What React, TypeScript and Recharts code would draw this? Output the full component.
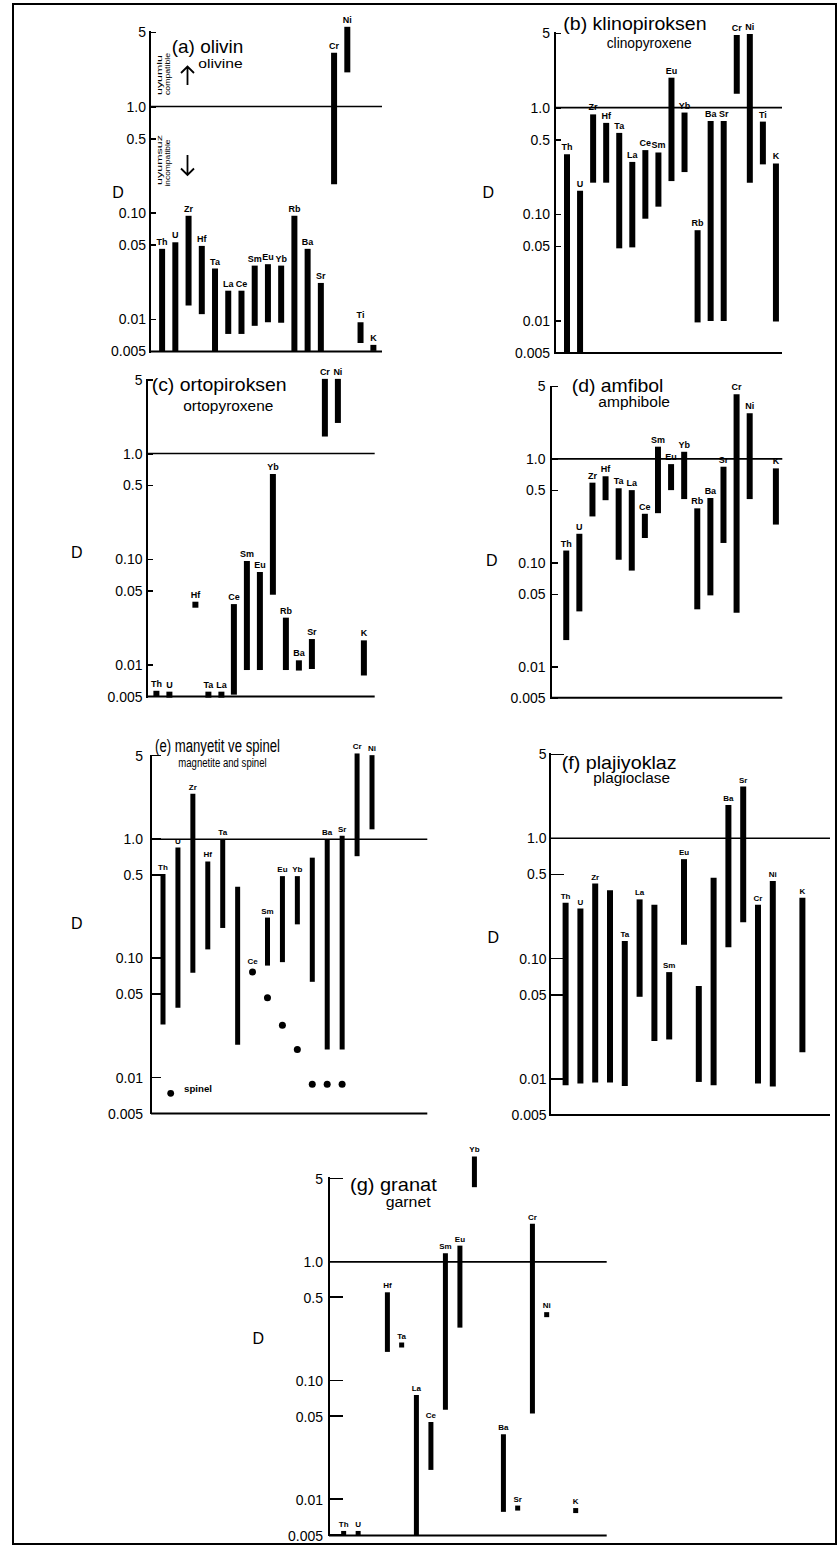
import React from 'react';
import { ComposedChart, Bar, Line, XAxis, YAxis, ReferenceLine, LabelList } from 'recharts';

const FONT = '"Liberation Sans", Arial, Helvetica, sans-serif';

const elements = ['Th', 'U', 'Zr', 'Hf', 'Ta', 'La', 'Ce', 'Sm', 'Eu', 'Yb', 'Rb', 'Ba', 'Sr', 'Cr', 'Ni', 'Ti', 'K'];
const tickValues = [0.005, 0.01, 0.05, 0.1, 0.5, 1, 5];
const tickLabels = ['0.005', '0.01', '0.05', '0.10', '0.5', '1.0', '5'];
const N = null;

// (a) olivin
const olivLow = [0.005, 0.005, 0.0135, 0.0112, 0.005, 0.0073, 0.0073, 0.0087, 0.0094, 0.0093, 0.005, 0.005, 0.005, 0.186, 2.09, 0.006, N];
const olivHigh = [0.046, 0.053, 0.094, 0.049, 0.03, 0.0186, 0.0186, 0.032, 0.033, 0.032, 0.094, 0.046, 0.022, 3.2, 5.6, 0.0094, N];
const olivPts = [N, N, N, N, N, N, N, N, N, N, N, N, N, N, N, N, 0.0054];

// (b) klinopiroksen
const cpxLow = [0.005, 0.005, 0.198, 0.198, 0.048, 0.049, 0.091, 0.118, 0.205, 0.249, 0.0097, 0.01, 0.01, 1.35, 0.198, 0.294, 0.0099];
const cpxHigh = [0.365, 0.166, 0.865, 0.72, 0.58, 0.31, 0.4, 0.38, 1.91, 0.9, 0.071, 0.75, 0.75, 4.8, 4.9, 0.74, 0.3];
const cpxPts = elements.map(() => N);

// (c) ortopiroksen
const opxLow = [N, N, N, N, N, N, 0.0052, 0.0089, 0.0089, 0.046, 0.0089, 0.0088, 0.0091, 1.45, 1.95, N, 0.0079];
const opxHigh = [N, N, N, N, N, N, 0.0375, 0.096, 0.0755, 0.64, 0.0279, 0.011, 0.0175, 5.1, 5.1, N, 0.017];
const opxPts = [0.0053, 0.0052, N, 0.037, 0.0052, 0.0052, N, N, N, N, N, N, N, N, N, N, N];

// (d) amfibol
const amphLow = [0.018, 0.034, 0.279, 0.4, 0.107, 0.084, 0.173, 0.3, 0.5, 0.41, 0.0356, 0.0485, 0.155, 0.033, 0.41, N, 0.233];
const amphHigh = [0.131, 0.19, 0.59, 0.68, 0.52, 0.5, 0.296, 1.31, 0.89, 1.17, 0.334, 0.42, 0.84, 4.2, 2.75, N, 0.81];
const amphPts = elements.map(() => N);

// (e) manyetit ve spinel (bars: magnetite, dots: spinel)
const magLow = [0.0279, 0.0385, 0.0757, 0.119, 0.18, 0.0189, N, 0.087, 0.093, 0.193, 0.0636, 0.0172, 0.0172, 0.72, 1.21, N, N];
const magHigh = [0.51, 0.85, 2.41, 0.65, 1.0, 0.4, N, 0.22, 0.49, 0.49, 0.7, 1.0, 1.07, 5.24, 5.07, N, N];
const spinelPts = [N, N, N, N, N, N, 0.077, 0.0467, 0.0275, 0.0172, 0.0088, 0.0088, 0.0088, N, N, N, N];
const magUnlabeled = ['La', 'Rb'];

// (f) plajiyoklaz
const plagLow = [0.0088, 0.0091, 0.0093, 0.0093, 0.0087, 0.048, 0.0206, 0.0212, 0.13, 0.0094, 0.0088, 0.124, 0.2, 0.0091, 0.0086, N, 0.0166];
const plagHigh = [0.29, 0.26, 0.42, 0.37, 0.14, 0.31, 0.28, 0.077, 0.67, 0.059, 0.47, 1.89, 2.69, 0.28, 0.44, N, 0.32];
const plagPts = elements.map(() => N);
const plagUnlabeled = ['Hf', 'Ce', 'Yb', 'Rb'];

// (g) granat
const grtLow = [N, N, N, 0.175, N, 0.005, 0.0178, 0.057, 0.28, 4.25, N, 0.0079, N, 0.053, N, N, N];
const grtHigh = [N, N, N, 0.555, N, 0.076, 0.045, 1.18, 1.37, 7.7, N, 0.0355, N, 2.09, N, N, N];
const grtPts = [0.0052, 0.0052, N, N, 0.2, N, N, N, N, N, N, N, 0.0085, N, 0.36, N, 0.0081];

const DOMAIN_TOP = 10;
const YW = 60;
const MT = 10;
const MB = 12;
const MR = 4;

type Cfg = {
  axisX: number; right: number; top5: number; bottom: number;
  padL: number; padR: number; bar: number; tickLen: number; gap: number;
  labelSize: number; ps: number; shape: 'square' | 'circle';
};

const cfgA: Cfg = { axisX: 150, right: 382, top5: 32.3, bottom: 351.7, padL: 5.1, padR: 2, bar: 6, tickLen: 6, gap: 4, labelSize: 9, ps: 6, shape: 'square' };
const cfgB: Cfg = { axisX: 555, right: 782, top5: 33.3, bottom: 353.3, padL: 5, padR: 0, bar: 6, tickLen: 6, gap: 5, labelSize: 9, ps: 6, shape: 'square' };
const cfgC: Cfg = { axisX: 147.3, right: 375, top5: 380, bottom: 696.7, padL: 2.9, padR: 3.8, bar: 6, tickLen: 6, gap: 4.5, labelSize: 9, ps: 6, shape: 'square' };
const cfgD: Cfg = { axisX: 550.7, right: 782, top5: 386.7, bottom: 698.3, padL: 8.25, padR: 0.3, bar: 6, tickLen: 7, gap: 5.5, labelSize: 9, ps: 6, shape: 'square' };
const cfgE: Cfg = { axisX: 150.7, right: 427, top5: 755.7, bottom: 1113.3, padL: 4.5, padR: 18, bar: 5, tickLen: 10, gap: 8, labelSize: 8, ps: 7, shape: 'circle' };
const cfgF: Cfg = { axisX: 550, right: 830, top5: 754.3, bottom: 1115, padL: 8.6, padR: 19.8, bar: 6, tickLen: 14, gap: 3.5, labelSize: 8, ps: 6, shape: 'square' };
const cfgG: Cfg = { axisX: 329.3, right: 607, top5: 1178.3, bottom: 1535, padL: 7.4, padR: 23.75, bar: 5, tickLen: 14, gap: 6, labelSize: 8, ps: 5, shape: 'square' };
const allCfg = [cfgA, cfgB, cfgC, cfgD, cfgE, cfgF, cfgG];

function Panel({ cfg, low, high, pts, unlabeled = [] }: {
  cfg: Cfg; low: (number | null)[]; high: (number | null)[]; pts: (number | null)[]; unlabeled?: string[];
}) {
  const dec = (cfg.bottom - cfg.top5) / 3;
  const plotTop = cfg.top5 - Math.log10(DOMAIN_TOP / 5) * dec;
  const plotH = cfg.bottom - plotTop;
  const plotW = cfg.right - cfg.axisX;
  const width = YW + plotW + MR;
  const height = MT + plotH + MB;

  const rows = elements.map((el, i) => {
    const lo = low[i];
    const hi = high[i];
    const hasBar = lo != null && hi != null;
    const shown = !unlabeled.includes(el);
    return {
      el,
      r: hasBar ? [lo, hi] : null,
      p: pts[i] ?? null,
      lab: hasBar && shown ? el : '',
      plab: !hasBar && pts[i] != null && shown ? el : '',
    };
  });

  const renderTick = (props: any) => {
    const { x, y, payload } = props;
    const idx = tickValues.indexOf(payload.value);
    return (
      <text x={Number(x) - cfg.gap} y={y} dy="0.36em" textAnchor="end" fontSize={14} fontFamily={FONT} fill="#000">
        {tickLabels[idx]}
      </text>
    );
  };

  const barLabel = (props: any) => {
    const vb = props.viewBox || props;
    const x = vb.x ?? props.x;
    const y = vb.y ?? props.y;
    const w = vb.width ?? props.width ?? 0;
    if (!props.value || !Number.isFinite(x) || !Number.isFinite(y)) return null;
    return (
      <text x={x + w / 2} y={y - 4} textAnchor="middle" fontSize={cfg.labelSize} fontWeight="bold" fontFamily={FONT} fill="#000">
        {props.value}
      </text>
    );
  };

  const pointLabel = (props: any) => {
    const vb = props.viewBox || props;
    const x = vb.x ?? props.x;
    const y = vb.y ?? props.y;
    if (!props.value || !Number.isFinite(x) || !Number.isFinite(y)) return null;
    return (
      <text x={x} y={y - cfg.ps / 2 - 4} textAnchor="middle" fontSize={cfg.labelSize} fontWeight="bold" fontFamily={FONT} fill="#000">
        {props.value}
      </text>
    );
  };

  const renderDot = (props: any) => {
    const { cx, cy, index, payload } = props;
    if (payload == null || payload.p == null || !Number.isFinite(cx) || !Number.isFinite(cy)) {
      return <g key={`d-${index}`} />;
    }
    if (cfg.shape === 'circle') {
      return <circle key={`d-${index}`} cx={cx} cy={cy} r={cfg.ps / 2} fill="#000" />;
    }
    return <rect key={`d-${index}`} x={cx - cfg.ps / 2} y={cy - cfg.ps / 2} width={cfg.ps} height={cfg.ps} fill="#000" />;
  };

  return (
    <div style={{ position: 'absolute', left: cfg.axisX - YW, top: plotTop - MT, zIndex: 1 }}>
      <ComposedChart width={width} height={height} data={rows} margin={{ top: MT, right: MR, bottom: MB, left: 0 }}>
        <XAxis dataKey="el" hide padding={{ left: cfg.padL, right: cfg.padR }} />
        <YAxis
          scale="log"
          domain={[0.005, DOMAIN_TOP]}
          ticks={tickValues}
          interval={0}
          width={YW}
          axisLine={false}
          tickLine={false}
          tickSize={0}
          tickMargin={0}
          tick={renderTick}
        />
        <ReferenceLine y={1} stroke="#000" strokeWidth={1.6} ifOverflow="visible" />
        <ReferenceLine y={0.005} stroke="#000" strokeWidth={2} ifOverflow="visible" />
        <Bar dataKey="r" fill="#000" barSize={cfg.bar} isAnimationActive={false}>
          <LabelList dataKey="lab" content={barLabel} />
        </Bar>
        <Line dataKey="p" stroke="none" dot={renderDot} activeDot={false} isAnimationActive={false} legendType="none">
          <LabelList dataKey="plab" content={pointLabel} />
        </Line>
      </ComposedChart>
    </div>
  );
}

// vertical axis (from the "5" tick down to the baseline) with inward tick marks,
// placed with the same log mapping the panel's chart uses
function AxisFrame({ cfg }: { cfg: Cfg }) {
  const dec = (cfg.bottom - cfg.top5) / 3;
  const yOf = (v: number) => cfg.bottom - Math.log10(v / 0.005) * dec;
  return (
    <>
      <div
        style={{
          position: 'absolute', left: cfg.axisX - 1, top: cfg.top5 - 1, width: 2,
          height: cfg.bottom - cfg.top5 + 2, background: '#000', zIndex: 3,
        }}
      />
      {tickValues.map((v) => (
        <div
          key={v}
          style={{
            position: 'absolute', left: cfg.axisX, top: yOf(v) - 0.8, width: cfg.tickLen,
            height: 1.6, background: '#000', zIndex: 3,
          }}
        />
      ))}
    </>
  );
}

const T = (props: { x: number; y: number; size: number; len: number; children: string }) => (
  <text x={props.x} y={props.y} fontSize={props.size} fontFamily={FONT} fill="#000" textLength={props.len} lengthAdjust="spacingAndGlyphs">
    {props.children}
  </text>
);

const D = ({ x, y }: { x: number; y: number }) => (
  <text x={x} y={y + 5.8} fontSize={16} fontFamily={FONT} textAnchor="middle" fill="#000">D</text>
);

export default function App() {
  return (
    <div style={{ position: 'absolute', left: 0, top: 0, width: 839, height: 1545, background: '#fff', overflow: 'hidden' }}>
      <Panel cfg={cfgA} low={olivLow} high={olivHigh} pts={olivPts} />
      <Panel cfg={cfgB} low={cpxLow} high={cpxHigh} pts={cpxPts} />
      <Panel cfg={cfgC} low={opxLow} high={opxHigh} pts={opxPts} />
      <Panel cfg={cfgD} low={amphLow} high={amphHigh} pts={amphPts} />
      <Panel cfg={cfgE} low={magLow} high={magHigh} pts={spinelPts} unlabeled={magUnlabeled} />
      <Panel cfg={cfgF} low={plagLow} high={plagHigh} pts={plagPts} unlabeled={plagUnlabeled} />
      <Panel cfg={cfgG} low={grtLow} high={grtHigh} pts={grtPts} />

      {allCfg.map((c, i) => (
        <AxisFrame key={i} cfg={c} />
      ))}

      <svg width={839} height={1545} style={{ position: 'absolute', left: 0, top: 0, pointerEvents: 'none', zIndex: 2 }}>
        <rect x={13} y={4} width={823} height={1540} fill="none" stroke="#000" strokeWidth={2} />

        <T x={171.7} y={53} size={19} len={71.7}>(a) olivin</T>
        <T x={198.3} y={68.3} size={13} len={44.3}>olivine</T>
        <T x={563.3} y={29.5} size={19} len={143.3}>(b) klinopiroksen</T>
        <T x={606.7} y={48} size={14} len={85}>clinopyroxene</T>
        <T x={151.7} y={391} size={19} len={135}>(c) ortopiroksen</T>
        <T x={183.3} y={411} size={14} len={90}>ortopyroxene</T>
        <T x={571.7} y={391.7} size={19} len={91.7}>(d) amfibol</T>
        <T x={598.3} y={406.7} size={14} len={71.7}>amphibole</T>
        <T x={155} y={752.3} size={18} len={125}>(e) manyetit ve spinel</T>
        <T x={178.3} y={766.7} size={12} len={88.3}>magnetite and spinel</T>
        <T x={561.7} y={769} size={19} len={115}>(f) plajiyoklaz</T>
        <T x={593.3} y={783.3} size={14} len={76.7}>plagioclase</T>
        <T x={350} y={1191} size={19} len={86.7}>(g) granat</T>
        <T x={385.7} y={1206.7} size={14} len={45}>garnet</T>

        <D x={118} y={192} />
        <D x={488.3} y={191.7} />
        <D x={76.7} y={551.7} />
        <D x={491.7} y={560} />
        <D x={76.7} y={923.3} />
        <D x={493.3} y={936.7} />
        <D x={258.3} y={1338.3} />

        <g fontFamily={FONT} fontSize={7} fill="#000">
          <text transform="translate(161.5,75) rotate(-90)" textAnchor="middle" textLength={40} lengthAdjust="spacingAndGlyphs">uyumlu</text>
          <text transform="translate(170,74) rotate(-90)" textAnchor="middle" textLength={42} lengthAdjust="spacingAndGlyphs">compatible</text>
          <text transform="translate(161.5,160) rotate(-90)" textAnchor="middle" textLength={50} lengthAdjust="spacingAndGlyphs">uyumsuz</text>
          <text transform="translate(170,163) rotate(-90)" textAnchor="middle" textLength={47} lengthAdjust="spacingAndGlyphs">incompatible</text>
        </g>
        <path d="M187.5 85 V66.5 M181 73 L187.5 66.5 L194 73" stroke="#000" strokeWidth={1.8} fill="none" />
        <path d="M187.5 155 V175 M181 168.5 L187.5 175 L194 168.5" stroke="#000" strokeWidth={1.8} fill="none" />

        <circle cx={170.7} cy={1093.3} r={3.4} fill="#000" />
        <text x={184} y={1092} fontSize={8.5} fontWeight="bold" fontFamily={FONT} fill="#000" textLength={28} lengthAdjust="spacingAndGlyphs">spinel</text>
      </svg>
    </div>
  );
}
